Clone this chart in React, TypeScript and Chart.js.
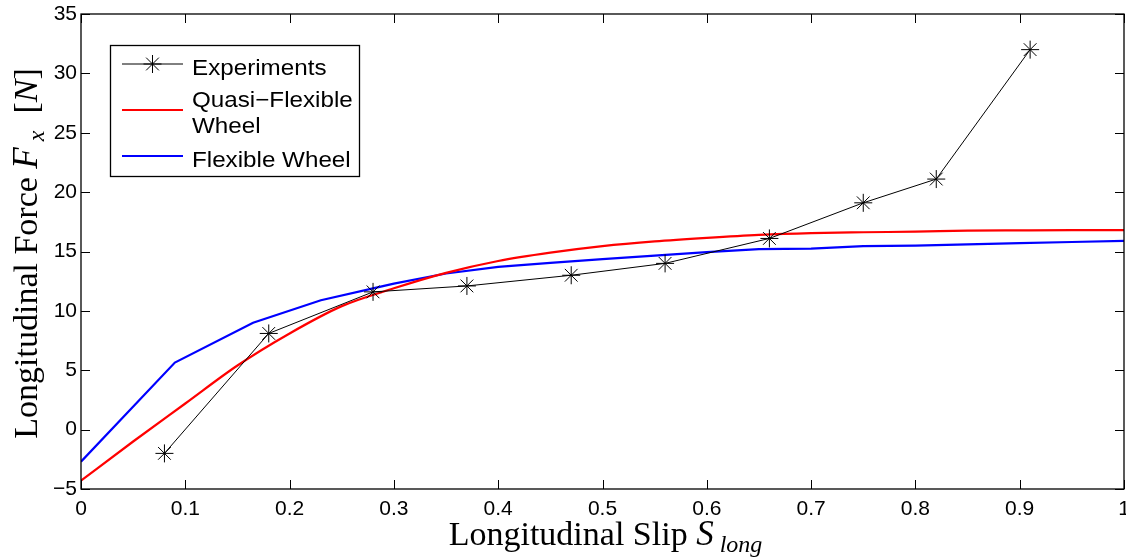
import React, { useEffect, useRef } from "react";
import { Chart, registerables } from "chart.js";

Chart.register(...registerables);

// Experiments
const slipExp = [0.08, 0.18, 0.28, 0.37, 0.47, 0.56, 0.66, 0.75, 0.82, 0.91];
const forceExp = [-2, 8.1, 11.6, 12.1, 13, 14, 16.1, 19.1, 21.1, 32];

// Quasi-Flexible Wheel
const slipQuasi = [0, 0.05, 0.1, 0.15, 0.2, 0.25, 0.3, 0.35, 0.4, 0.45, 0.5, 0.55, 0.6, 0.65, 0.7, 0.75, 0.8, 0.85, 0.9, 0.95, 1.0];
const forceQuasi = [-4.3, -1.0, 2.2, 5.4, 8.1, 10.4, 11.9, 13.2, 14.2, 14.9, 15.45, 15.85, 16.15, 16.4, 16.55, 16.62, 16.67, 16.75, 16.78, 16.8, 16.8];

// Flexible Wheel
const slipFlex = [0, 0.09, 0.165, 0.23, 0.28, 0.3, 0.35, 0.4, 0.45, 0.5, 0.55, 0.6, 0.65, 0.7, 0.75, 0.8, 0.85, 0.9, 0.95, 1.0];
const forceFlex = [-2.7, 5.65, 9.0, 10.9, 11.9, 12.3, 13.15, 13.7, 14.05, 14.35, 14.65, 14.95, 15.2, 15.25, 15.45, 15.5, 15.6, 15.7, 15.8, 15.9];

const legendLabels = ["Experiments", "Quasi\u2212Flexible\nWheel", "Flexible Wheel"];

const xMin = 0, xMax = 1, xStep = 0.1;
const yMin = -5, yMax = 35, yStep = 5;

const toPoints = (xs: number[], ys: number[]) => xs.map((x, i) => ({ x, y: ys[i] }));

const SERIF = '"Liberation Serif", "DejaVu Serif", serif';
const SANS = '"Liberation Sans", Arial, sans-serif';

type Seg = { t: string; font: string; dy?: number };

function drawSegs(ctx: CanvasRenderingContext2D, segs: Seg[], cx: number, cy: number) {
  let total = 0;
  const widths = segs.map((s) => {
    ctx.font = s.font;
    const w = ctx.measureText(s.t).width;
    total += w;
    return w;
  });
  let x = cx - total / 2;
  ctx.textAlign = "left";
  ctx.textBaseline = "alphabetic";
  segs.forEach((s, i) => {
    ctx.font = s.font;
    ctx.fillText(s.t, x, cy + (s.dy || 0));
    x += widths[i];
  });
}

function drawStar(ctx: CanvasRenderingContext2D, x: number, y: number, r: number) {
  const d = r * Math.SQRT1_2;
  ctx.beginPath();
  ctx.moveTo(x - r, y); ctx.lineTo(x + r, y);
  ctx.moveTo(x, y - r); ctx.lineTo(x, y + r);
  ctx.moveTo(x - d, y - d); ctx.lineTo(x + d, y + d);
  ctx.moveTo(x - d, y + d); ctx.lineTo(x + d, y - d);
  ctx.stroke();
}

const framePlugin = {
  id: "frame",
  afterDatasetsDraw(chart: any) {
    const { ctx, chartArea: a, scales } = chart;
    const xs = scales.x, ys = scales.y;
    ctx.save();
    ctx.strokeStyle = "#000";
    ctx.lineWidth = 1.3;
    ctx.strokeRect(a.left, a.top, a.right - a.left, a.bottom - a.top);
    ctx.lineWidth = 1;
    const tl = 9;
    ctx.beginPath();
    xs.ticks.forEach((t: any) => {
      const px = Math.round(xs.getPixelForValue(t.value)) + 0.5;
      ctx.moveTo(px, a.bottom); ctx.lineTo(px, a.bottom - tl);
      ctx.moveTo(px, a.top); ctx.lineTo(px, a.top + tl);
    });
    ys.ticks.forEach((t: any) => {
      const py = Math.round(ys.getPixelForValue(t.value)) + 0.5;
      ctx.moveTo(a.left, py); ctx.lineTo(a.left + tl, py);
      ctx.moveTo(a.right, py); ctx.lineTo(a.right - tl, py);
    });
    ctx.stroke();
    ctx.restore();
  },
  afterDraw(chart: any) {
    const { ctx, chartArea: a } = chart;
    ctx.save();
    ctx.fillStyle = "#000";
    // X title
    drawSegs(ctx, [
      { t: "Longitudinal Slip ", font: `34px ${SERIF}` },
      { t: "S", font: `italic 35px ${SERIF}` },
      { t: " long", font: `italic 24px ${SERIF}`, dy: 7 },
    ], (a.left + a.right) / 2 + 3, 545);
    // Y title
    ctx.save();
    ctx.translate(37, (a.top + a.bottom) / 2 + 2);
    ctx.rotate(-Math.PI / 2);
    drawSegs(ctx, [
      { t: "Longitudinal Force ", font: `34px ${SERIF}` },
      { t: "F", font: `italic 35px ${SERIF}` },
      { t: " x", font: `italic 24px ${SERIF}`, dy: 7 },
      { t: "  [", font: `34px ${SERIF}` },
      { t: "N", font: `italic 34px ${SERIF}` },
      { t: "]", font: `34px ${SERIF}` },
    ], 0, 0);
    ctx.restore();

    // Legend
    const bx = 110, by = 45, bw = 249, bh = 131;
    ctx.fillStyle = "#fff";
    ctx.fillRect(bx, by, bw, bh);
    ctx.strokeStyle = "#000";
    ctx.lineWidth = 1.3;
    ctx.strokeRect(bx + 0.5, by + 0.5, bw, bh);
    const colors = ["#000000", "#ff0000", "#0000ff"];
    const lineYs = [64, 110, 156];
    const lineW = [1, 2, 2];
    const textBase = [[75], [107, 133], [167]];
    ctx.font = `22px ${SANS}`;
    ctx.textAlign = "left";
    ctx.textBaseline = "alphabetic";
    legendLabels.forEach((lab, i) => {
      ctx.strokeStyle = colors[i];
      ctx.lineWidth = lineW[i];
      ctx.beginPath();
      ctx.moveTo(122, lineYs[i]);
      ctx.lineTo(183, lineYs[i]);
      ctx.stroke();
      if (i === 0) {
        ctx.lineWidth = 1;
        drawStar(ctx, 152.5, lineYs[i], 9);
      }
      ctx.fillStyle = "#000";
      lab.split("\n").forEach((ln, j) => {
        ctx.save();
        ctx.translate(192, textBase[i][j]);
        ctx.scale(1.1, 1);
        ctx.fillText(ln, 0, 0);
        ctx.restore();
      });
    });
    ctx.restore();
  },
};

export default function App() {
  const ref = useRef<HTMLCanvasElement>(null);
  useEffect(() => {
    if (!ref.current) return;
    const chart = new Chart(ref.current, {
      type: "line",
      data: {
        datasets: [
          {
            label: legendLabels[0],
            data: toPoints(slipExp, forceExp),
            borderColor: "#000",
            backgroundColor: "#000",
            borderWidth: 1,
            pointStyle: "star",
            pointRadius: 9,
            pointBorderWidth: 1,
            pointBorderColor: "#000",
            tension: 0,
          },
          {
            label: legendLabels[1],
            data: toPoints(slipQuasi, forceQuasi),
            borderColor: "#ff0000",
            borderWidth: 2.2,
            pointRadius: 0,
            cubicInterpolationMode: "monotone",
          },
          {
            label: legendLabels[2],
            data: toPoints(slipFlex, forceFlex),
            borderColor: "#0000ff",
            borderWidth: 2.2,
            pointRadius: 0,
            tension: 0,
          },
        ],
      },
      options: {
        animation: false,
        responsive: false,
        events: [],
        layout: { autoPadding: false, padding: { left: 0, top: 14, right: 2, bottom: 0 } },
        plugins: { legend: { display: false }, tooltip: { enabled: false } },
        scales: {
          x: {
            type: "linear",
            min: xMin,
            max: xMax,
            grid: { display: false, drawTicks: false },
            border: { display: false },
            ticks: {
              stepSize: xStep,
              color: "#000",
              padding: 8,
              maxRotation: 0,
              autoSkip: false,
              font: { family: SANS, size: 21 },
              callback: (v: any) => String(Math.round(Number(v) * 10) / 10),
            },
            afterFit: (s: any) => {
              s.height = 68;
              s.paddingLeft = 0;
              s.paddingRight = 0;
            },
          },
          y: {
            type: "linear",
            min: yMin,
            max: yMax,
            grid: { display: false, drawTicks: false },
            border: { display: false },
            ticks: {
              stepSize: yStep,
              color: "#000",
              padding: 4,
              autoSkip: false,
              font: { family: SANS, size: 21 },
              callback: (v: any) => (Number(v) < 0 ? "\u2212" + Math.abs(Number(v)) : String(v)),
            },
            afterFit: (s: any) => {
              s.width = 81;
              s.paddingTop = 0;
              s.paddingBottom = 0;
            },
          },
        },
      },
      plugins: [framePlugin],
    } as any);
    return () => chart.destroy();
  }, []);
  return (
    <div style={{ position: "fixed", left: 0, top: 0, width: 1126, height: 557, background: "#fff" }}>
      <canvas ref={ref} width={1126} height={557} style={{ display: "block" }} />
    </div>
  );
}
